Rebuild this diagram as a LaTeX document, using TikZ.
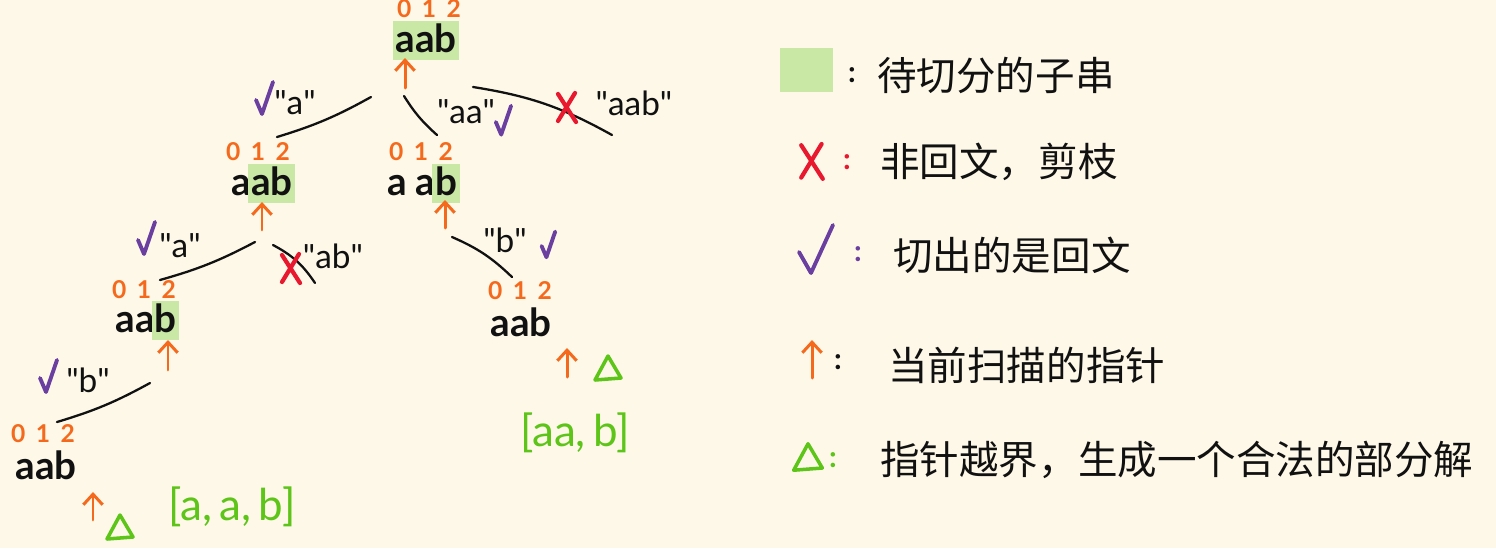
\documentclass[tikz,border=0pt]{standalone}
\usepackage{fontspec}
\setmainfont{Lato}
\newfontfamily\cjk{Noto Sans CJK SC}
\usetikzlibrary{arrows.meta}
\definecolor{paper}{HTML}{FDF8E8}
\definecolor{ink}{HTML}{111111}
\definecolor{hlgreen}{HTML}{C9E7A5}
\definecolor{orng}{HTML}{F5691C}
\definecolor{purp}{HTML}{6B3FA0}
\definecolor{redx}{HTML}{E8182F}
\definecolor{okgreen}{HTML}{5DC418}
\setlength{\fboxsep}{1.5pt}
\newcommand{\hlsub}[1]{\kern-\fboxsep\colorbox{hlgreen}{\rule[-3pt]{0pt}{14pt}#1}\kern-\fboxsep}
\newcommand{\qt}[1]{\textquotedbl#1\textquotedbl}

\begin{document}
\begin{tikzpicture}[
    x=0.02cm, y=-0.02cm,
    every node/.style={text=ink, inner sep=0pt},
    word/.style={font=\bfseries\fontsize{22}{22}\selectfont, anchor=base,
        text height=14pt, text depth=0pt},
    idx/.style={font=\bfseries\fontsize{14}{14}\selectfont, text=orng,
        text height=10pt, text depth=0pt},
    cut/.style={font=\fontsize{19}{19}\selectfont},
    res/.style={font=\fontsize{25}{25}\selectfont, text=okgreen},
    legend/.style={font=\cjk\fontsize{22.5}{22.5}\selectfont, anchor=west},
    colon/.style={font=\bfseries\fontsize{17}{17}\selectfont},
    ptr/.style={-{Straight Barb[length=6pt,width=11pt]}, line width=1.7pt,
        draw=orng, line cap=round},
    branch/.style={line width=1.3pt, draw=ink, line cap=round},
    tickmark/.pic={\draw[purp, line width=2.2pt, line cap=round, line join=round]
        (-8,0) -- (-2,14) -- (9,-18);},
    crossmark/.pic={\draw[redx, line width=2.4pt, line cap=round]
        (-9,-14) -- (9,14) (8,-15) -- (-9,13);},
    trimark/.pic={\draw[okgreen, line width=2pt, line join=round]
        (-13,12) -- (0,-12) -- (13,10) -- cycle;},
]

% Paper
\fill[paper] (0,0) rectangle (1496,548);
\useasboundingbox (0,0) rectangle (1496,548);

% Root
\node[word] (w0) at (426,52) {\hlsub{aab}};
\node[idx] (i0) at (429,9) {0\hspace{6pt}1\hspace{6pt}2};
\coordinate (a0) at (405,88);
\draw[ptr] (a0) -- ++(0,-30);

% Root cuts
\coordinate (b0s) at (371,97); \coordinate (b0e) at (277,137);
\draw[branch] (b0s) to[bend left=6] (b0e);
\pic at (264,100) {tickmark};
\node[cut] (l1) at (295,103) {\qt{a}};

\coordinate (b1s) at (404,96); \coordinate (b1e) at (437,135);
\draw[branch] (b1s) to[bend right=8] (b1e);
\node[cut] (l2) at (466,112) {\qt{aa}};
\pic[scale=0.9] at (503,122) {tickmark};

\coordinate (b2s) at (473,87); \coordinate (b2e) at (612,135);
\draw[branch] (b2s) to[bend left=10] (b2e);
\pic at (567,108) {crossmark};
\node[cut] (l3) at (634,103) {\qt{aab}};

% Level 2, left
\node[word] (w1) at (262,195) {a\hlsub{ab}};
\node[idx] (i1) at (258,152) {0\hspace{6pt}1\hspace{6pt}2};
\coordinate (a1) at (262,230);
\draw[ptr] (a1) -- ++(0,-28);

\coordinate (b3s) at (255,242); \coordinate (b3e) at (160,280);
\draw[branch] (b3s) to[bend left=6] (b3e);
\pic at (146,240) {tickmark};
\node[cut] (l4) at (180,246) {\qt{a}};

\coordinate (b4s) at (273,245); \coordinate (b4e) at (315,283);
\draw[branch] (b4s) to[bend left=14] (b4e);
\pic at (291,269) {crossmark};
\node[cut] (l5) at (333,256) {\qt{ab}};

% Level 2, right
\node[word] (w2) at (422,195) {a\hspace{5pt}a\hlsub{b}};
\node[idx] (i2) at (421,152) {0\hspace{6pt}1\hspace{6pt}2};
\coordinate (a2) at (445,228);
\draw[ptr] (a2) -- ++(0,-28);

\coordinate (b5s) at (452,237); \coordinate (b5e) at (512,277);
\draw[branch] (b5s) to[bend left=10] (b5e);
\node[cut] (l6) at (505,240) {\qt{b}};
\pic[scale=0.8] at (548,246) {tickmark};

% Level 3, left
\node[word] (w3) at (146,332) {aa\hlsub{b}};
\node[idx] (i3) at (144,290) {0\hspace{6pt}1\hspace{6pt}2};
\coordinate (a3) at (168,370);
\draw[ptr] (a3) -- ++(0,-30);

\coordinate (b6s) at (150,383); \coordinate (b6e) at (57,422);
\draw[branch] (b6s) to[bend left=6] (b6e);
\pic at (48,378) {tickmark};
\node[cut] (l7) at (88,380) {\qt{b}};

% Level 4, left (done)
\node[word] (w4) at (46,479) {aab};
\node[idx] (i4) at (43,434) {0\hspace{6pt}1\hspace{6pt}2};
\coordinate (a4) at (93,520);
\draw[ptr] (a4) -- ++(0,-28);
\pic at (120,527) {trimark};
\node[res] (r1) at (232,507) {[a,\,a,\,b]};

% Level 3, right (done)
\node[word] (w5) at (521,336) {aab};
\node[idx] (i5) at (520,291) {0\hspace{6pt}1\hspace{6pt}2};
\coordinate (a5) at (567,377);
\draw[ptr] (a5) -- ++(0,-29);
\pic at (608,368) {trimark};
\node[res] (r2) at (575,433) {[aa,\,b]};

% Legend
\node[fill=hlgreen, minimum width=1.06cm, minimum height=0.9cm] (sq) at (806,70) {};
\node[colon] (c1) at (852,75) {:};
\node[legend] (t1) at (877,75) {待切分的子串};

\pic[scale=1.2] at (812,162) {crossmark};
\node[colon, text=redx] (c2) at (847,162) {:};
\node[legend] (t2) at (880,162) {非回文，剪枝};

\pic[xscale=2, yscale=1.5] at (815,252) {tickmark};
\node[colon, text=purp] (c3) at (858,254) {:};
\node[legend] (t3) at (893,255) {切出的是回文};

\coordinate (a6) at (812,378);
\draw[ptr] (a6) -- ++(0,-38);
\node[colon] (c4) at (838,362) {:};
\node[legend] (t4) at (888,365) {当前扫描的指针};

\pic[scale=1.1] at (808,457) {trimark};
\node[colon, text=okgreen] (c5) at (833,460) {:};
\node[legend] (t5) at (880,460) {指针越界，生成一个合法的部分解};

\end{tikzpicture}
\end{document}
